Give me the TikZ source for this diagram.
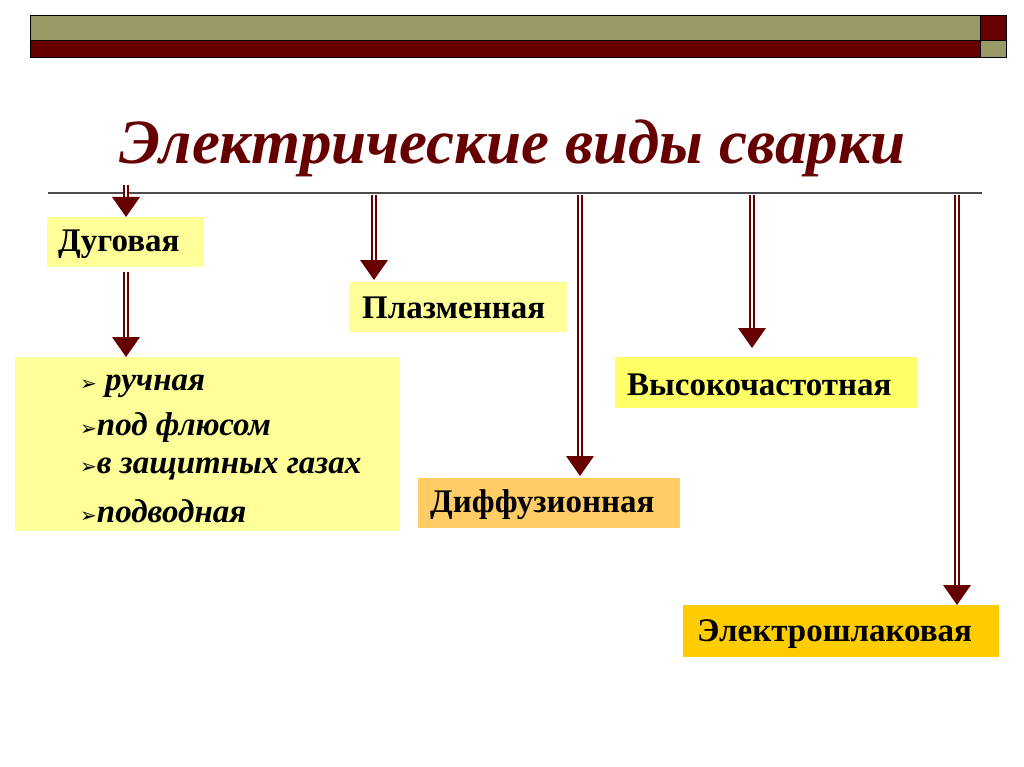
\documentclass[tikz,border=0pt]{standalone}
\usepackage{fontspec}
\setmainfont{Liberation Serif}
\newfontfamily\symf{DejaVu Sans}
\usetikzlibrary{arrows.meta}
\definecolor{olive}{HTML}{999966}
\definecolor{dred}{HTML}{660000}
\definecolor{pale}{HTML}{FFFF99}
\definecolor{yel}{HTML}{FFFF66}
\definecolor{org}{HTML}{FFCC66}
\definecolor{gold}{HTML}{FFCC00}
\tikzset{
 lbl/.style={anchor=west,inner sep=0pt,font=\fontsize{33}{33}\selectfont\bfseries},
 item/.style={anchor=west,inner sep=0pt,font=\fontsize{33}{33}\selectfont\bfseries\itshape},
 shaft/.style={draw=dred,line width=2.6pt,double=white,double distance=1.6pt},
}
\newcommand{\bul}{{\symf\fontsize{20}{20}\selectfont ➢}}
\newcommand{\myarrow}[3]{%
 \draw[shaft] (#1,#2) -- (#1,#3-18);
 \fill[dred] (#1-14,#3-20) -- (#1+14,#3-20) -- (#1,#3) -- cycle;}
\begin{document}
\begin{tikzpicture}[x=1pt,y=-1pt]
\useasboundingbox (0,0) rectangle (1024,767);
% top bar
\fill[olive] (30,15) rectangle (980,40);
\fill[dred] (30,40) rectangle (980,57);
\fill[dred] (980,15) rectangle (1006,40);
\fill[olive] (980,40) rectangle (1006,57);
\draw[black,line width=0.8pt] (30,15) rectangle (1006,57) (30,40) -- (1006,40) (980,15) -- (980,57);
% title
\node[text=dred,font=\fontsize{63}{63}\selectfont\bfseries\itshape] (title) at (512,148) {Электрические виды сварки};
\draw[gray!60!black,line width=1.3pt] (48,193) -- (982,193);
% boxes
\fill[pale] (47,217) rectangle (204,267);
\node[lbl] (dug) at (58,244) {Дуговая};
\fill[pale] (15,357) rectangle (400,531);
\node[item] (l1) at (80,386) {\bul\ ручная};
\node[item] (l2) at (80,428) {\bul под флюсом};
\node[item] (l3) at (80,469) {\bul в защитных газах};
\node[item] (l4) at (80,511) {\bul подводная};
\fill[pale] (349,282) rectangle (567,332);
\node[lbl] (pl) at (362,308) {Плазменная};
\fill[yel] (615,357) rectangle (917,408);
\node[lbl] (vch) at (627,385) {Высокочастотная};
\fill[org] (418,478) rectangle (680,528);
\node[lbl] (dif) at (430,505) {Диффузионная};
\fill[gold] (683,605) rectangle (999,657);
\node[lbl] (esh) at (697,634) {Электрошлаковая};
% arrows
\myarrow{126}{185}{217}
\myarrow{126}{272}{357}
\myarrow{374}{195}{280}
\myarrow{580}{195}{476}
\myarrow{752}{195}{348}
\myarrow{957}{195}{605}
\end{tikzpicture}
\end{document}
